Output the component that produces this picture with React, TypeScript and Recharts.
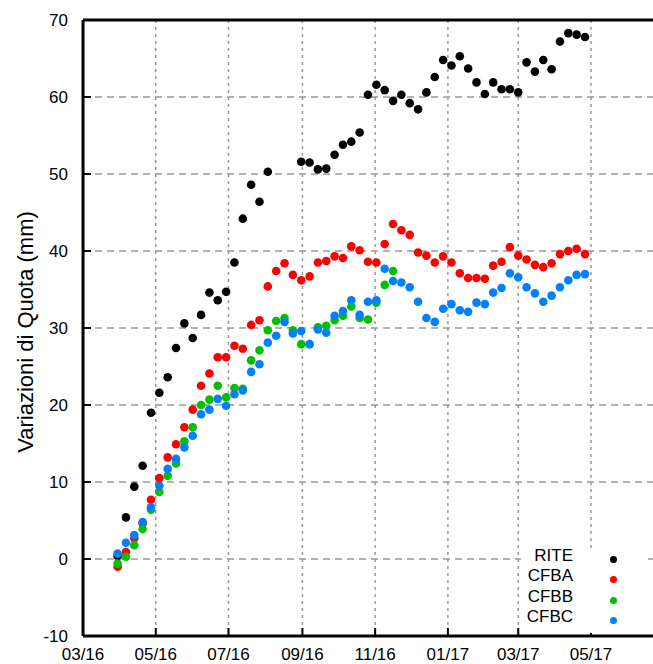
import { ScatterChart, Scatter, XAxis, YAxis, CartesianGrid, Legend, Label } from 'recharts';

const FONT = '"Liberation Sans", Arial, Helvetica, sans-serif';

// weekly survey dates
const dates = [
  '2016-03-30', '2016-04-06', '2016-04-13', '2016-04-20', '2016-04-27',
  '2016-05-04', '2016-05-11', '2016-05-18', '2016-05-25',
  '2016-06-01', '2016-06-08', '2016-06-15', '2016-06-22', '2016-06-29',
  '2016-07-06', '2016-07-13', '2016-07-20', '2016-07-27',
  '2016-08-03', '2016-08-10', '2016-08-17', '2016-08-24', '2016-08-31',
  '2016-09-07', '2016-09-14', '2016-09-21', '2016-09-28',
  '2016-10-05', '2016-10-12', '2016-10-19', '2016-10-26',
  '2016-11-02', '2016-11-09', '2016-11-16', '2016-11-23', '2016-11-30',
  '2016-12-07', '2016-12-14', '2016-12-21', '2016-12-28',
  '2017-01-04', '2017-01-11', '2017-01-18', '2017-01-25',
  '2017-02-01', '2017-02-08', '2017-02-15', '2017-02-22',
  '2017-03-01', '2017-03-08', '2017-03-15', '2017-03-22', '2017-03-29',
  '2017-04-05', '2017-04-12', '2017-04-19', '2017-04-26',
];

const rite = [
  0.4, 5.4, 9.4, 12.1, 19.0, 21.6, 23.6, 27.4, 30.6, 28.7,
  31.7, 34.6, 33.6, 34.7, 38.5, 44.2, 48.6, 46.4, 50.3, null,
  null, null, 51.6, 51.5, 50.6, 50.7, 52.5, 53.8, 54.2, 55.4,
  60.3, 61.6, 60.9, 59.5, 60.3, 59.2, 58.4, 60.6, 62.6, 64.8,
  64.1, 65.3, 63.7, 61.9, 60.4, 61.9, 61.0, 61.0, 60.6, 64.5,
  63.3, 64.8, 63.6, 67.2, 68.3, 68.1, 67.8,
];

const cfba = [
  -1.0, 0.9, 2.7, 4.6, 7.7, 10.5, 13.2, 14.9, 17.1, 19.4,
  22.5, 24.1, 26.2, 26.2, 27.7, 27.3, 30.4, 31.0, 35.4, 37.4,
  38.4, 36.9, 36.2, 36.7, 38.5, 38.7, 39.3, 39.1, 40.6, 40.1,
  38.6, 38.5, 40.9, 43.5, 42.7, 42.1, 39.8, 39.4, 38.5, 39.3,
  38.5, 37.1, 36.5, 36.5, 36.4, 38.1, 38.6, 40.5, 39.4, 38.9,
  38.2, 37.9, 38.4, 39.6, 40.0, 40.3, 39.6,
];

const cfbb = [
  -0.6, 0.3, 1.8, 3.9, 6.4, 8.7, 10.8, 12.4, 15.3, 17.1,
  20.0, 20.7, 22.5, 21.0, 22.2, 22.1, 25.8, 27.1, 29.7, 30.9,
  31.3, 29.7, 27.9, 27.9, 30.1, 30.3, 31.0, 31.6, 32.8, 31.3,
  31.1, 33.3, 35.6, 37.4,
];

const cfbc = [
  0.7, 2.1, 3.1, 4.8, 6.7, 9.5, 11.7, 13.0, 14.5, 16.0,
  18.8, 19.4, 20.8, 19.9, 21.4, 21.9, 24.3, 25.3, 28.1, 29.0,
  30.8, 29.3, 29.6, 27.9, 29.8, 29.4, 31.6, 32.2, 33.6, 31.7,
  33.4, 33.6, 37.7, 36.1, 35.9, 35.3, 33.4, 31.3, 30.8, 32.5,
  33.1, 32.3, 32.1, 33.3, 33.1, 34.6, 35.2, 37.1, 36.6, 35.3,
  34.5, 33.4, 34.2, 35.3, 36.2, 36.9, 37.0,
];

const seriesNames = ['RITE', 'CFBA', 'CFBB', 'CFBC'];
const seriesValues = [rite, cfba, cfbb, cfbc];
const seriesColors = ['#000000', '#ff0000', '#00c000', '#0080ff'];

const monthTicks = [
  '2016-03-01', '2016-05-01', '2016-07-01', '2016-09-01',
  '2016-11-01', '2017-01-01', '2017-03-01', '2017-05-01',
];
const monthLabels = ['03/16', '05/16', '07/16', '09/16', '11/16', '01/17', '03/17', '05/17'];

const yMajor = [-10, 0, 10, 20, 30, 40, 50, 60, 70];
const yMinor = [-5, 5, 15, 25, 35, 45, 55, 65];

const START = Date.UTC(2016, 2, 1);
const toDay = (s: string) => {
  const [y, m, d] = s.split('-').map(Number);
  return (Date.UTC(y, m - 1, d) - START) / 86400000;
};

const xEnd = toDay('2017-07-01');
const majorX = monthTicks.map(toDay);
// six minor divisions per two-month step
const minorX: number[] = [];
majorX.forEach((a, i) => {
  const b = i + 1 < majorX.length ? majorX[i + 1] : a + 61;
  for (let k = 1; k < 6; k++) minorX.push(a + ((b - a) * k) / 6);
});

const series = seriesNames.map((name, i) => ({
  name,
  color: seriesColors[i],
  data: dates
    .map((d, j) => ({ x: toDay(d), y: seriesValues[i][j] }))
    .filter((p) => p.y !== null && p.y !== undefined),
}));

// axes are kept (almost) zero sized so they all sit on the plot frame
const THIN = 0.01;
const axisLine = { stroke: '#000', strokeWidth: 3 };
const tickLine = { stroke: '#000', strokeWidth: 2 };
const tickText = { fill: '#000', fontSize: 17, fontFamily: FONT };

function LegendBox() {
  return (
    <div style={{ position: 'relative', width: 127, height: 84, background: '#fff', fontFamily: FONT, fontSize: 17 }}>
      {series.map((s, i) => (
        <div key={s.name}>
          <div
            style={{
              position: 'absolute', right: 75, top: 7 + i * 20.4 - 10, height: 20,
              lineHeight: '20px', color: '#000', whiteSpace: 'nowrap',
            }}
          >
            {s.name}
          </div>
          <div
            style={{
              position: 'absolute', left: 88.5, top: 10 + i * 20.6 - 3.5, width: 7, height: 7,
              borderRadius: '50%', background: s.color,
            }}
          />
        </div>
      ))}
    </div>
  );
}

export default function App() {
  return (
    <div style={{ position: 'absolute', left: 0, top: 0, width: 653, height: 664, overflow: 'hidden', background: '#fff' }}>
      <ScatterChart width={680} height={664} margin={{ top: 20, right: 16.3, bottom: 28, left: 83 }}>
        <CartesianGrid xAxisId="x" yAxisId="y" vertical={false} stroke="#999" strokeDasharray="7 5" strokeWidth={1.5} />
        <CartesianGrid xAxisId="x" yAxisId="y" horizontal={false} stroke="#999" strokeDasharray="3 4" strokeWidth={1.5} />
        <XAxis
          xAxisId="x" type="number" dataKey="x" orientation="bottom" domain={[0, xEnd]} allowDataOverflow
          ticks={majorX} interval={0} height={THIN} tickSize={-8} tickMargin={20}
          tickFormatter={(v: number) => monthLabels[majorX.indexOf(v)] ?? ''}
          axisLine={axisLine} tickLine={tickLine} tick={tickText}
        />
        <XAxis
          xAxisId="xmin" type="number" orientation="bottom" domain={[0, xEnd]} allowDataOverflow
          ticks={minorX} interval={0} height={THIN} tickSize={-4} axisLine={false} tickLine={tickLine} tick={false}
        />
        <XAxis
          xAxisId="top" type="number" orientation="top" domain={[0, xEnd]} allowDataOverflow
          ticks={majorX} interval={0} height={THIN} tickSize={-8} axisLine={axisLine} tickLine={tickLine} tick={false}
        />
        <XAxis
          xAxisId="topmin" type="number" orientation="top" domain={[0, xEnd]} allowDataOverflow
          ticks={minorX} interval={0} height={THIN} tickSize={-4} axisLine={false} tickLine={tickLine} tick={false}
        />
        <YAxis
          yAxisId="y" type="number" dataKey="y" domain={[-10, 70]} allowDataOverflow
          ticks={yMajor} interval={0} width={THIN} tickSize={-8} tickMargin={23}
          axisLine={axisLine} tickLine={tickLine} tick={tickText}
        >
          <Label
            content={() => (
              <text
                x={25} y={332} transform="rotate(-90 25 332)" textAnchor="middle" dominantBaseline="central"
                fontSize={22} fontFamily={FONT} fill="#000"
              >
                Variazioni di Quota (mm)
              </text>
            )}
          />
        </YAxis>
        <YAxis
          yAxisId="ymin" type="number" domain={[-10, 70]} allowDataOverflow
          ticks={yMinor} interval={0} width={THIN} tickSize={-5} axisLine={false} tickLine={tickLine} tick={false}
        />
        {series.map((s) => (
          <Scatter
            key={s.name}
            name={s.name}
            data={s.data}
            xAxisId="x"
            yAxisId="y"
            fill={s.color}
            isAnimationActive={false}
            shape={(p: any) => <circle cx={p.cx} cy={p.cy} r={4.3} fill={s.color} />}
          />
        ))}
        <Legend
          layout="vertical" align="center" verticalAlign="middle"
          wrapperStyle={{ left: 521, top: 549, width: 127, height: 84 }}
          content={() => <LegendBox />}
        />
      </ScatterChart>
    </div>
  );
}
